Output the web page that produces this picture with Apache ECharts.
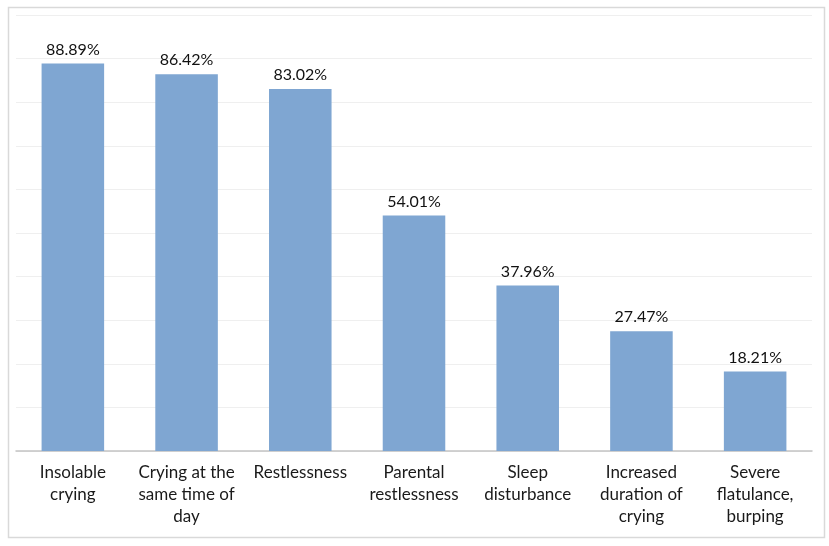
<!doctype html>
<html lang="en">
<head>
<meta charset="utf-8">
<title>colic symptoms</title>
<script src="https://cdn.jsdelivr.net/npm/echarts@6/dist/echarts.min.js"></script>
<style>
  html, body { margin: 0; padding: 0; background: #fff; }
</style>
</head>
<body>
<div id="chart" style="width: 829px;height:546px;"></div>

<script>

var categories = ['Insolable\ncrying', 'Crying at the\nsame time of\nday', 'Restlessness',
    'Parental\nrestlessness', 'Sleep\ndisturbance', 'Increased\nduration of\ncrying',
    'Severe\nflatulance,\nburping'];
var percents = [88.89, 86.42, 83.02, 54.01, 37.96, 27.47, 18.21];

var myChart = echarts.init(document.getElementById('chart'));

myChart.setOption({
    animation: false,
    textStyle: { fontFamily: 'Lato' },
    graphic: [{
        type: 'rect',
        left: 6, top: 5,
        shape: { width: 816, height: 530 },
        style: { fill: 'none', stroke: '#d9d9d9', lineWidth: 1.5 },
        z: -1
    }],
    grid: { left: 16, right: 17, top: 15, bottom: 95 },
    xAxis: {
        type: 'category',
        data: categories,
        axisLine: { lineStyle: { color: '#c4c4c4', width: 1.5 } },
        axisTick: { show: false },
        axisLabel: {
            interval: 0,
            margin: 11,
            color: '#1a1a1a',
            fontSize: 17,
            lineHeight: 22,
            fontFamily: 'Lato'
        }
    },
    yAxis: {
        type: 'value',
        min: 0,
        max: 100,
        interval: 10,
        axisLabel: { show: false },
        axisLine: { show: false },
        axisTick: { show: false },
        splitLine: { lineStyle: { color: '#efefef', width: 1 } }
    },
    series: [{
        type: 'bar',
        data: percents,
        barWidth: '55%',
        itemStyle: { color: '#7fa6d2' },
        label: {
            show: true,
            position: 'top',
            distance: 6,
            color: '#111',
            fontSize: 16,
            fontFamily: 'Lato',
            formatter: function (p) { return p.value.toFixed(2) + '%'; }
        }
    }]
});

</script>
</body>
</html>
